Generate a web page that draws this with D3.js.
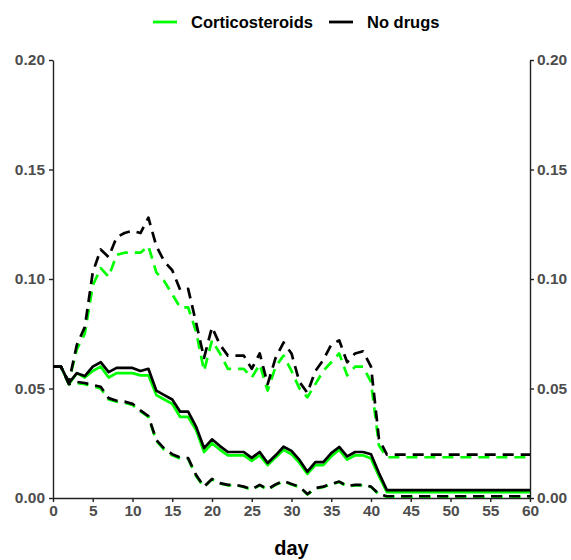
<!DOCTYPE html>
<html>
<head>
<meta charset="utf-8">
<script src="https://cdn.jsdelivr.net/npm/d3@7"></script>
<style>
  html, body { margin: 0; padding: 0; background: #fff; }
  svg { display: block; font-family: "Liberation Sans", Arial, sans-serif; }
</style>
</head>
<body>
<svg id="chart" width="571" height="560"></svg>
<script>
// Daily rate with upper/lower bounds, by treatment group
const days = [0,1,2,3,4,5,6,7,8,9,10,11,12,13,14,15,16,17,18,19,20,21,22,23,24,25,26,27,28,29,30,
  31,32,33,34,35,36,37,38,39,40,41,42,43,44,45,46,47,48,49,50,51,52,53,54,55,56,57,58,59,60];

const cortMid = [0.060,0.060,0.052,0.057,0.055,0.058,0.060,0.055,0.057,0.057,0.057,0.056,0.056,
  0.047,0.045,0.043,0.037,0.037,0.031,0.021,0.025,0.022,0.0195,0.0195,0.0195,0.017,0.0195,0.015,
  0.0185,0.022,0.020,0.016,0.011,0.015,0.015,0.019,0.022,0.0175,0.0195,0.0195,0.018,0.010,
  0.0027,0.0027,0.0027,0.0027,0.0027,0.0027,0.0027,0.0027,0.0027,0.0027,0.0027,0.0027,0.0027,
  0.0027,0.0027,0.0027,0.0027,0.0027,0.0027];
const cortUpper = [0.060,0.060,0.053,0.068,0.075,0.097,0.105,0.101,0.111,0.112,0.112,0.112,0.115,
  0.103,0.099,0.093,0.087,0.087,0.076,0.058,0.072,0.066,0.059,0.059,0.059,0.055,0.061,0.049,
  0.060,0.065,0.058,0.050,0.046,0.052,0.058,0.062,0.066,0.056,0.060,0.060,0.053,0.024,
  0.0186,0.0186,0.0186,0.0186,0.0186,0.0186,0.0186,0.0186,0.0186,0.0186,0.0186,0.0186,0.0186,
  0.0186,0.0186,0.0186,0.0186,0.0186,0.0186];
const cortLower = [0.060,0.060,0.052,0.0525,0.052,0.051,0.050,0.045,0.044,0.0435,0.0425,0.0395,0.037,
  0.026,0.022,0.0195,0.018,0.0178,0.010,0.005,0.0085,0.0066,0.0058,0.0058,0.005,0.0038,0.0058,0.0038,
  0.006,0.0076,0.0062,0.005,0.0016,0.0043,0.005,0.0062,0.0073,0.0053,0.0058,0.0058,0.005,0.0016,
  0.0006,0.0006,0.0006,0.0006,0.0006,0.0006,0.0006,0.0006,0.0006,0.0006,0.0006,0.0006,0.0006,
  0.0006,0.0006,0.0006,0.0006,0.0006,0.0006];

const noDrugMid = [0.060,0.060,0.0525,0.057,0.0557,0.060,0.062,0.0575,0.0594,0.0594,0.0594,0.058,0.059,
  0.049,0.047,0.045,0.0394,0.0394,0.0326,0.0228,0.0268,0.0237,0.021,0.021,0.021,0.0183,0.021,0.016,
  0.0195,0.0234,0.0215,0.0174,0.012,0.0164,0.0164,0.0205,0.0233,0.019,0.021,0.021,0.020,0.0114,
  0.0036,0.0036,0.0036,0.0036,0.0036,0.0036,0.0036,0.0036,0.0036,0.0036,0.0036,0.0036,0.0036,
  0.0036,0.0036,0.0036,0.0036,0.0036,0.0036];
const noDrugUpper = [0.060,0.060,0.053,0.070,0.078,0.103,0.1135,0.110,0.119,0.121,0.122,0.121,0.128,
  0.115,0.108,0.104,0.095,0.0955,0.080,0.064,0.078,0.070,0.065,0.065,0.065,0.059,0.066,0.052,
  0.064,0.071,0.066,0.053,0.048,0.058,0.063,0.070,0.072,0.062,0.066,0.067,0.060,0.027,
  0.0198,0.0198,0.0198,0.0198,0.0198,0.0198,0.0198,0.0198,0.0198,0.0198,0.0198,0.0198,0.0198,
  0.0198,0.0198,0.0198,0.0198,0.0198,0.0198];
const noDrugLower = [0.060,0.060,0.052,0.053,0.0525,0.0516,0.0508,0.0456,0.0444,0.044,0.043,0.040,0.0374,
  0.0265,0.0225,0.020,0.0185,0.0182,0.0105,0.0052,0.0087,0.0068,0.006,0.006,0.0052,0.004,0.006,0.004,
  0.0062,0.0078,0.0064,0.0052,0.0018,0.0045,0.0052,0.0064,0.0075,0.0055,0.006,0.006,0.0052,0.0018,
  0.0008,0.0008,0.0008,0.0008,0.0008,0.0008,0.0008,0.0008,0.0008,0.0008,0.0008,0.0008,0.0008,
  0.0008,0.0008,0.0008,0.0008,0.0008,0.0008];

const xTicks = [0,5,10,15,20,25,30,35,40,45,50,55,60];
const yTicks = [0.00,0.05,0.10,0.15,0.20];
const groups = ["Corticosteroids", "No drugs"];
const groupColors = ["#00FF00", "#000000"];

const svg = d3.select("#chart");
const plotLeft = 53, plotRight = 530, plotTop = 60, plotBottom = 498;

const x = d3.scaleLinear().domain([0, 60]).range([plotLeft, plotRight]);
const y = d3.scaleLinear().domain([0, 0.20]).range([plotBottom, plotTop]);

// axes
const tickColor = "#4D4D4D";
function styleAxis(g) {
  g.select(".domain").attr("stroke", "#222").attr("stroke-width", 1.4);
  g.selectAll(".tick line").attr("stroke", "#222").attr("stroke-width", 1.4);
  g.selectAll(".tick text").attr("fill", tickColor).attr("font-size", 15.5)
    .attr("font-weight", "bold").attr("font-family", "Liberation Sans, Arial, sans-serif");
}

svg.append("g").attr("transform", `translate(0,${plotBottom})`)
  .call(d3.axisBottom(x).tickValues(xTicks).tickFormat(d3.format("d")).tickSize(4).tickPadding(3).tickSizeOuter(0))
  .call(styleAxis);

svg.append("g").attr("transform", `translate(${plotLeft},0)`)
  .call(d3.axisLeft(y).tickValues(yTicks).tickFormat(d3.format(".2f")).tickSize(4).tickPadding(4).tickSizeOuter(0))
  .call(styleAxis);

svg.append("g").attr("transform", `translate(${plotRight},0)`)
  .call(d3.axisRight(y).tickValues(yTicks).tickFormat(d3.format(".2f")).tickSize(4).tickPadding(3).tickSizeOuter(0))
  .call(styleAxis);

// x-axis title
svg.append("text").attr("x", (plotLeft + plotRight) / 2).attr("y", 555)
  .attr("text-anchor", "middle").attr("font-size", 20).attr("font-weight", "bold")
  .attr("fill", "#000").text("day");

// series lines
const line = d3.line().x((d, i) => x(days[i])).y(d => y(d));
const plot = svg.append("g");
const series = [
  { values: cortUpper, color: groupColors[0], dashed: true },
  { values: cortLower, color: groupColors[0], dashed: true },
  { values: cortMid, color: groupColors[0], dashed: false },
  { values: noDrugUpper, color: groupColors[1], dashed: true },
  { values: noDrugLower, color: groupColors[1], dashed: true },
  { values: noDrugMid, color: groupColors[1], dashed: false }
];
series.forEach(s => {
  plot.append("path").datum(s.values)
    .attr("d", line)
    .attr("fill", "none")
    .attr("stroke", s.color)
    .attr("stroke-width", 2.7)
    .attr("stroke-linejoin", "round")
    .attr("stroke-dasharray", s.dashed ? "11,7" : null);
});

// legend
const legend = svg.append("g");
const legendX = [153, 329];
groups.forEach((name, i) => {
  legend.append("line").attr("x1", legendX[i]).attr("x2", legendX[i] + 24)
    .attr("y1", 22).attr("y2", 22)
    .attr("stroke", groupColors[i]).attr("stroke-width", 2.8);
  legend.append("text").attr("x", legendX[i] + 38).attr("y", 28)
    .attr("font-size", 16.5).attr("font-weight", "bold").attr("fill", "#000")
    .text(name);
});
</script>
</body>
</html>
